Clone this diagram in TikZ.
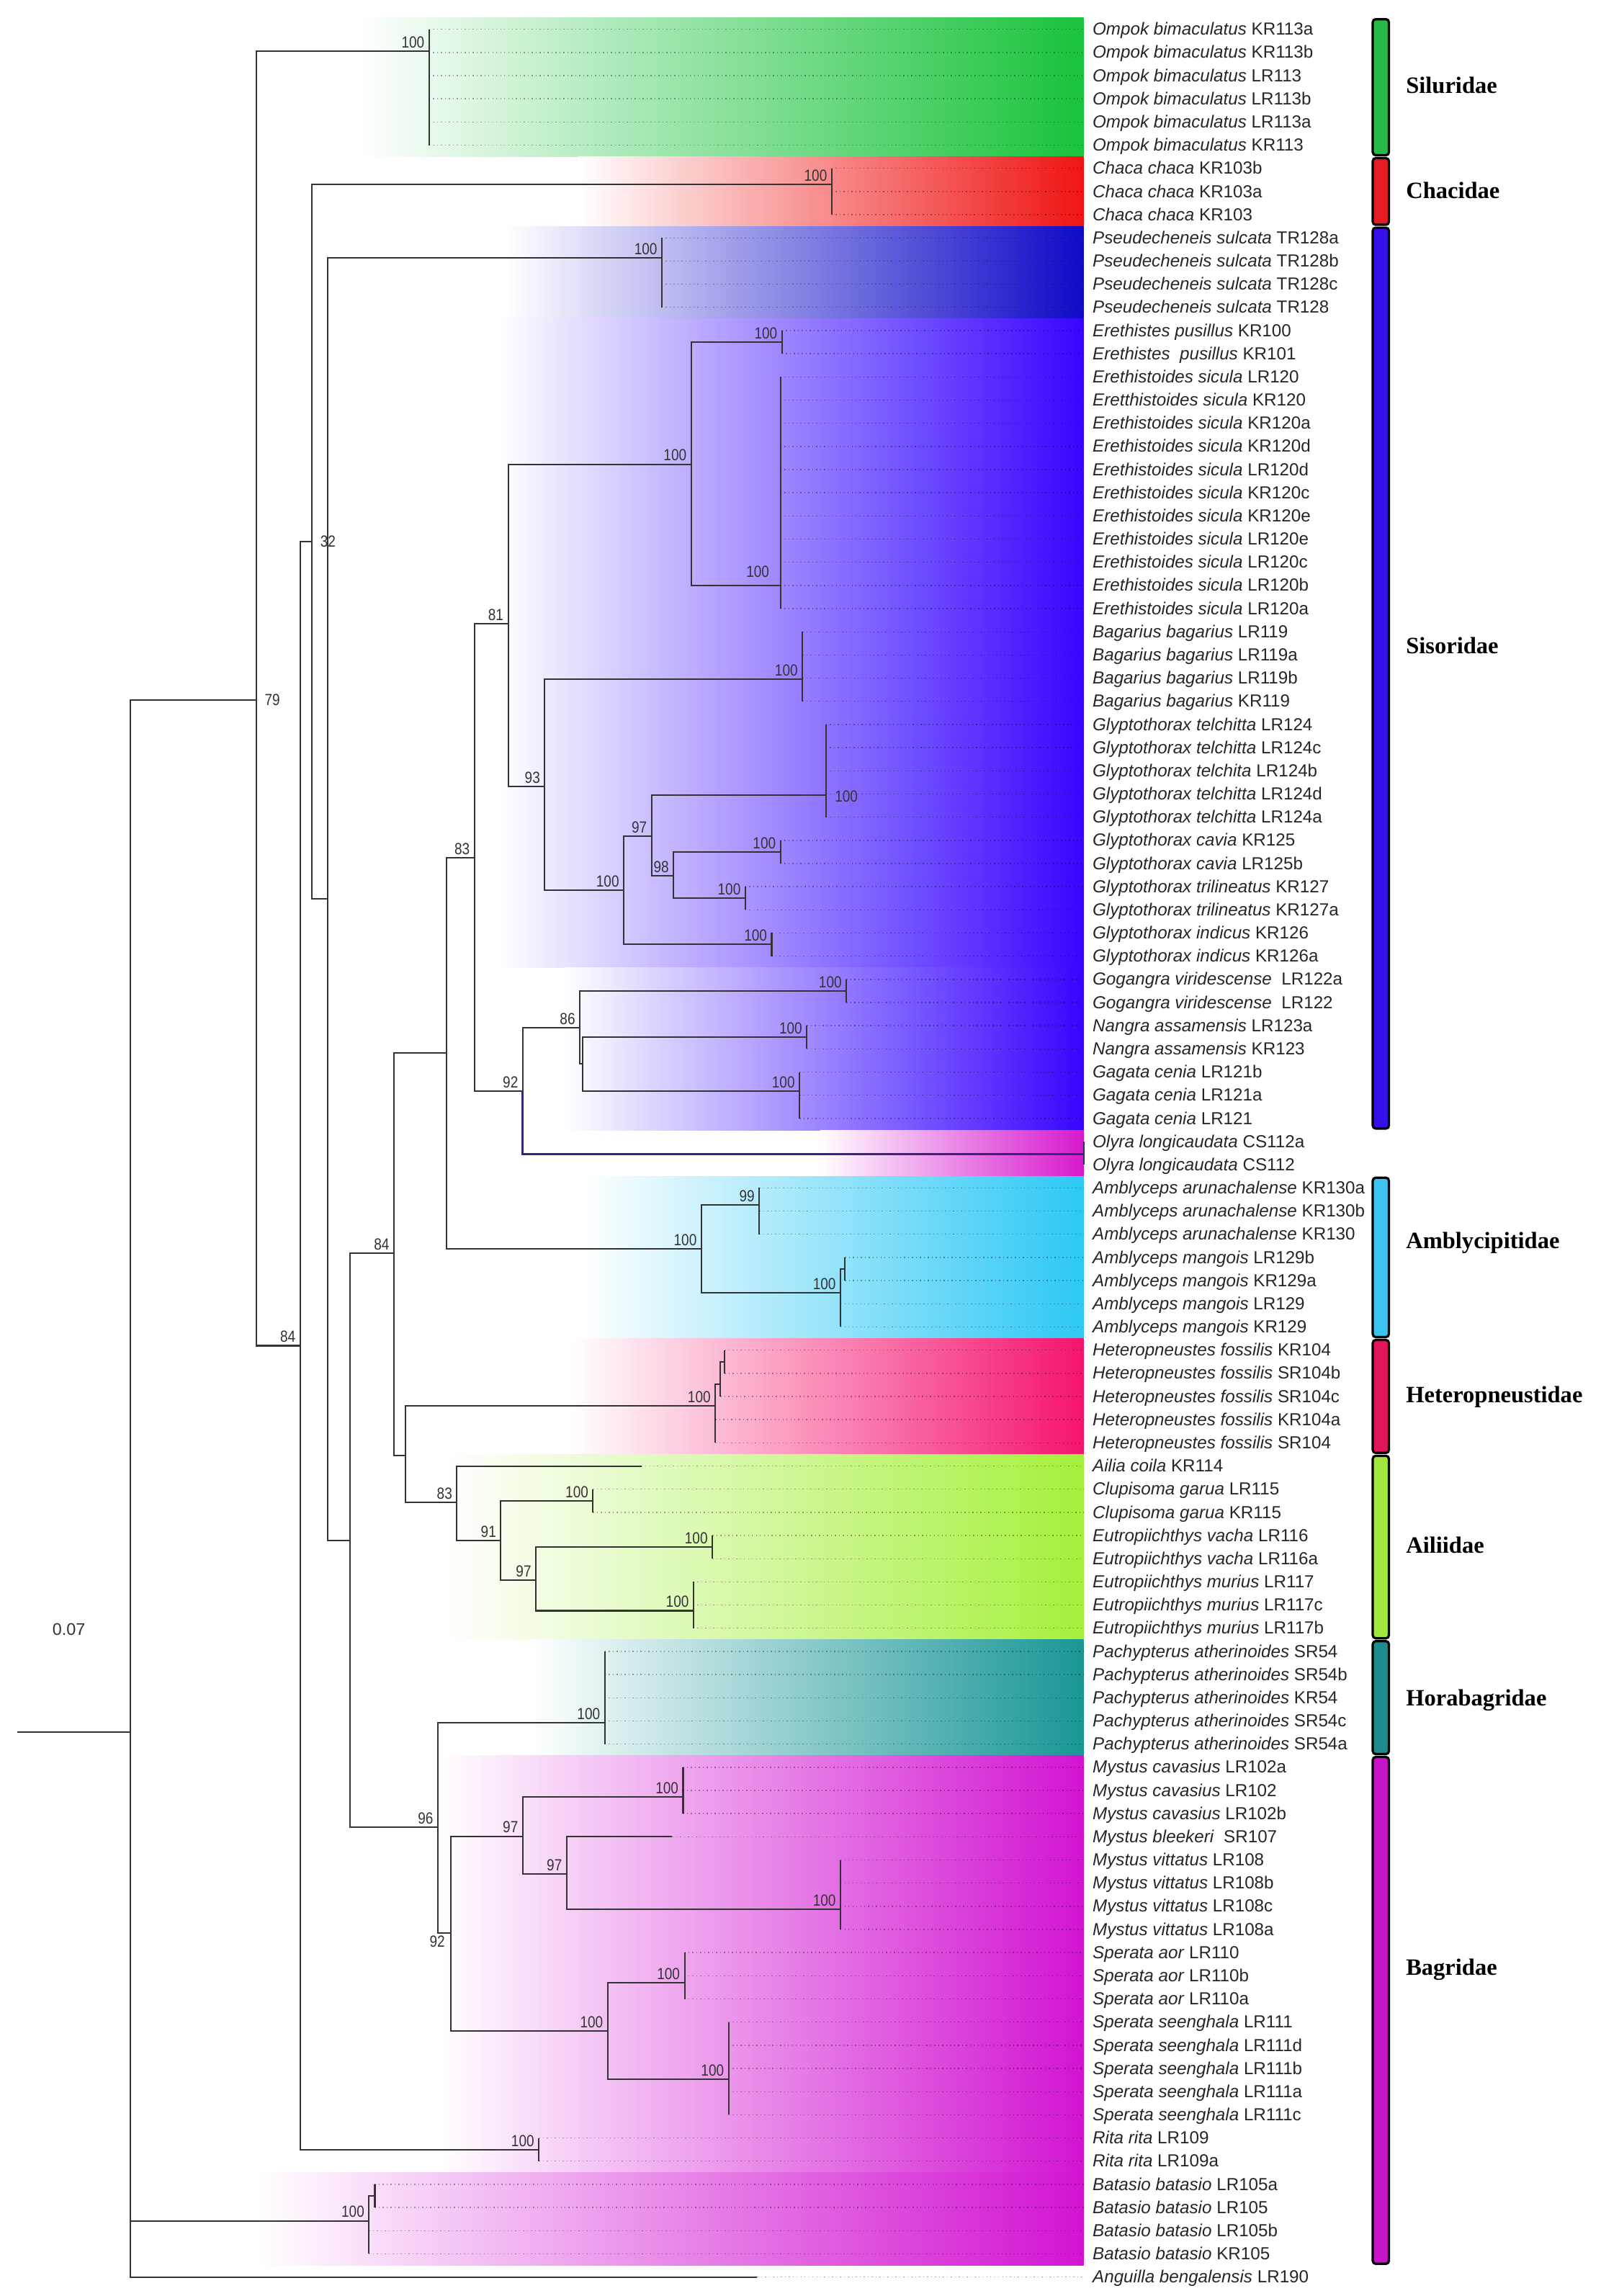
\documentclass[tikz,border=0pt]{standalone}
\usepackage{fontspec}
\setmainfont{Liberation Sans}
\newfontfamily\bsfont[FakeStretch=0.85]{Liberation Sans}
\newfontfamily\famfont{Liberation Serif}
\usetikzlibrary{calc}

\definecolor{silG}{RGB}{25,195,60}
\definecolor{chaR}{RGB}{240,20,20}
\definecolor{pseB}{RGB}{15,10,200}
\definecolor{sisV}{RGB}{55,5,255}
\definecolor{olyM}{RGB}{215,25,205}
\definecolor{ambS}{RGB}{45,200,245}
\definecolor{hetP}{RGB}{245,20,110}
\definecolor{ailL}{RGB}{165,240,60}
\definecolor{horT}{RGB}{25,150,150}
\definecolor{bagM}{RGB}{210,20,210}
\definecolor{barSil}{RGB}{40,185,70}
\definecolor{barCha}{RGB}{230,30,35}
\definecolor{barSis}{RGB}{55,15,235}
\definecolor{barAmb}{RGB}{60,195,240}
\definecolor{barHet}{RGB}{225,20,90}
\definecolor{barAil}{RGB}{160,230,60}
\definecolor{barHor}{RGB}{30,140,140}
\definecolor{barBag}{RGB}{200,20,200}
\definecolor{olyLine}{RGB}{55,35,130}

\newcommand\myleaf[3]{\node[leaf] (L#1) at (746,{20+(#1-1)*15.825}) {\textit{#2} #3};}
\newcommand\dl[2]{\draw[dotl] (#1 |- L#2) -- (L#2.west);}
\newcommand\tclade[3]{%
  \draw[br] (#1 |- L#2) -- (#1 |- L#3);
  \foreach \k in {#2,...,#3} {\draw[dotl] (#1 |- L\k) -- (L\k.west);}%
}

\begin{document}
\begin{tikzpicture}[x=1pt,y=-1pt,
  br/.style={draw=black!80,line width=1pt},
  dotl/.style={draw=black,draw opacity=0.35,dotted,line width=0.7pt,shorten >=6pt},
  leaf/.style={anchor=west,inner sep=0pt,font=\fontsize{11.9}{12}\selectfont,text=black!85,text height=8.5pt,text depth=0.5pt},
  bsl/.style={anchor=south east,inner sep=0pt,font=\bsfont\fontsize{11}{11}\selectfont,text=black!80},
  fam/.style={anchor=west,inner sep=0pt,font=\famfont\bfseries\fontsize{16}{16}\selectfont},
  famb/.style={draw=black,line width=1.6pt,rounded corners=2pt}
]
\useasboundingbox (0,0) rectangle (1093,1568);

% ---------- coloured bands ----------
\shade[left color=white,right color=silG] (245,12.1) rectangle (740,107.0);
\shade[left color=white,right color=chaR] (395,107.0) rectangle (740,154.5);
\shade[left color=white,right color=pseB] (345,154.5) rectangle (740,217.8);
\shade[left color=white,right color=sisV] (341,217.8) rectangle (740,660.9);
\shade[left color=white,right color=sisV] (385,660.9) rectangle (740,771.7);
\shade[left color=white,right color=olyM] (560,771.7) rectangle (740,803.3);
\shade[left color=white,right color=ambS] (397,803.3) rectangle (740,914.1);
\shade[left color=white,right color=hetP] (390,914.1) rectangle (740,993.2);
\shade[left color=white,right color=ailL] (305,993.2) rectangle (740,1119.8);
\shade[left color=white,right color=horT] (362,1119.8) rectangle (740,1198.9);
\shade[left color=white,right color=bagM] (300,1198.9) rectangle (740,1483.7);
\shade[left color=white,right color=bagM] (175,1483.7) rectangle (740,1547.0);

% ---------- leaves ----------
\myleaf{1}{Ompok bimaculatus}{KR113a}
\myleaf{2}{Ompok bimaculatus}{KR113b}
\myleaf{3}{Ompok bimaculatus}{LR113}
\myleaf{4}{Ompok bimaculatus}{LR113b}
\myleaf{5}{Ompok bimaculatus}{LR113a}
\myleaf{6}{Ompok bimaculatus}{KR113}
\myleaf{7}{Chaca chaca}{KR103b}
\myleaf{8}{Chaca chaca}{KR103a}
\myleaf{9}{Chaca chaca}{KR103}
\myleaf{10}{Pseudecheneis sulcata}{TR128a}
\myleaf{11}{Pseudecheneis sulcata}{TR128b}
\myleaf{12}{Pseudecheneis sulcata}{TR128c}
\myleaf{13}{Pseudecheneis sulcata}{TR128}
\myleaf{14}{Erethistes pusillus}{KR100}
\myleaf{15}{Erethistes\ \ pusillus}{KR101}
\myleaf{16}{Erethistoides sicula}{LR120}
\myleaf{17}{Eretthistoides sicula}{KR120}
\myleaf{18}{Erethistoides sicula}{KR120a}
\myleaf{19}{Erethistoides sicula}{KR120d}
\myleaf{20}{Erethistoides sicula}{LR120d}
\myleaf{21}{Erethistoides sicula}{KR120c}
\myleaf{22}{Erethistoides sicula}{KR120e}
\myleaf{23}{Erethistoides sicula}{LR120e}
\myleaf{24}{Erethistoides sicula}{LR120c}
\myleaf{25}{Erethistoides sicula}{LR120b}
\myleaf{26}{Erethistoides sicula}{LR120a}
\myleaf{27}{Bagarius bagarius}{LR119}
\myleaf{28}{Bagarius bagarius}{LR119a}
\myleaf{29}{Bagarius bagarius}{LR119b}
\myleaf{30}{Bagarius bagarius}{KR119}
\myleaf{31}{Glyptothorax telchitta}{LR124}
\myleaf{32}{Glyptothorax telchitta}{LR124c}
\myleaf{33}{Glyptothorax telchita}{LR124b}
\myleaf{34}{Glyptothorax telchitta}{LR124d}
\myleaf{35}{Glyptothorax telchitta}{LR124a}
\myleaf{36}{Glyptothorax cavia}{KR125}
\myleaf{37}{Glyptothorax cavia}{LR125b}
\myleaf{38}{Glyptothorax trilineatus}{KR127}
\myleaf{39}{Glyptothorax trilineatus}{KR127a}
\myleaf{40}{Glyptothorax indicus}{KR126}
\myleaf{41}{Glyptothorax indicus}{KR126a}
\myleaf{42}{Gogangra viridescense}{\ LR122a}
\myleaf{43}{Gogangra viridescense}{\ LR122}
\myleaf{44}{Nangra assamensis}{LR123a}
\myleaf{45}{Nangra assamensis}{KR123}
\myleaf{46}{Gagata cenia}{LR121b}
\myleaf{47}{Gagata cenia}{LR121a}
\myleaf{48}{Gagata cenia}{LR121}
\myleaf{49}{Olyra longicaudata}{CS112a}
\myleaf{50}{Olyra longicaudata}{CS112}
\myleaf{51}{Amblyceps arunachalense}{KR130a}
\myleaf{52}{Amblyceps arunachalense}{KR130b}
\myleaf{53}{Amblyceps arunachalense}{KR130}
\myleaf{54}{Amblyceps mangois}{LR129b}
\myleaf{55}{Amblyceps mangois}{KR129a}
\myleaf{56}{Amblyceps mangois}{LR129}
\myleaf{57}{Amblyceps mangois}{KR129}
\myleaf{58}{Heteropneustes fossilis}{KR104}
\myleaf{59}{Heteropneustes fossilis}{SR104b}
\myleaf{60}{Heteropneustes fossilis}{SR104c}
\myleaf{61}{Heteropneustes fossilis}{KR104a}
\myleaf{62}{Heteropneustes fossilis}{SR104}
\myleaf{63}{Ailia coila}{KR114}
\myleaf{64}{Clupisoma garua}{LR115}
\myleaf{65}{Clupisoma garua}{KR115}
\myleaf{66}{Eutropiichthys vacha}{LR116}
\myleaf{67}{Eutropiichthys vacha}{LR116a}
\myleaf{68}{Eutropiichthys murius}{LR117}
\myleaf{69}{Eutropiichthys murius}{LR117c}
\myleaf{70}{Eutropiichthys murius}{LR117b}
\myleaf{71}{Pachypterus atherinoides}{SR54}
\myleaf{72}{Pachypterus atherinoides}{SR54b}
\myleaf{73}{Pachypterus atherinoides}{KR54}
\myleaf{74}{Pachypterus atherinoides}{SR54c}
\myleaf{75}{Pachypterus atherinoides}{SR54a}
\myleaf{76}{Mystus cavasius}{LR102a}
\myleaf{77}{Mystus cavasius}{LR102}
\myleaf{78}{Mystus cavasius}{LR102b}
\myleaf{79}{Mystus bleekeri}{\ SR107}
\myleaf{80}{Mystus vittatus}{LR108}
\myleaf{81}{Mystus vittatus}{LR108b}
\myleaf{82}{Mystus vittatus}{LR108c}
\myleaf{83}{Mystus vittatus}{LR108a}
\myleaf{84}{Sperata aor}{LR110}
\myleaf{85}{Sperata aor}{LR110b}
\myleaf{86}{Sperata aor}{LR110a}
\myleaf{87}{Sperata seenghala}{LR111}
\myleaf{88}{Sperata seenghala}{LR111d}
\myleaf{89}{Sperata seenghala}{LR111b}
\myleaf{90}{Sperata seenghala}{LR111a}
\myleaf{91}{Sperata seenghala}{LR111c}
\myleaf{92}{Rita rita}{LR109}
\myleaf{93}{Rita rita}{LR109a}
\myleaf{94}{Batasio batasio}{LR105a}
\myleaf{95}{Batasio batasio}{LR105}
\myleaf{96}{Batasio batasio}{LR105b}
\myleaf{97}{Batasio batasio}{KR105}
\myleaf{98}{Anguilla bengalensis}{LR190}

% ---------- internal nodes ----------
\coordinate (root) at (89,1183);
\coordinate (scl) at (12,1183);
\coordinate (n79) at (175,478);
\coordinate (ompok) at (293,35);
\coordinate (n84a) at (205,919);
\coordinate (n32) at (213,370);
\coordinate (chaca) at (568,126);
\coordinate (n224) at (224,614);
\coordinate (pseud) at (452,176);
\coordinate (nY) at (239,1052);
\coordinate (n269) at (269,856);
\coordinate (n305) at (305,719);
\coordinate (n324) at (324,586);
\coordinate (n347) at (347,426);
\coordinate (n472) at (472,317);
\coordinate (erethistes) at (534,233.6);
\coordinate (erethistoides) at (533,400);
\coordinate (n372) at (372,537);
\coordinate (bagarius) at (548,464);
\coordinate (n426) at (426,608);
\coordinate (n445) at (445,571);
\coordinate (telchitta) at (564,543);
\coordinate (n460) at (460,598);
\coordinate (cavia) at (533,581.8);
\coordinate (trilin) at (509,613.5);
\coordinate (indicus) at (527,645);
\coordinate (n357) at (357,745);
\coordinate (n396) at (396,702);
\coordinate (gogangra) at (578,676.7);
\coordinate (n397) at (398,726.5);
\coordinate (nangra) at (551,708.4);
\coordinate (gagata) at (546,745);
\coordinate (olyra) at (740,788);
\coordinate (ambly) at (479,853);
\coordinate (n99) at (518.5,823);
\coordinate (mangois) at (574,883);
\coordinate (ms) at (577,866.7);
\coordinate (nZ) at (277,994);
\coordinate (hetero) at (488.5,960);
\coordinate (hs1) at (492,945.5);
\coordinate (hs2) at (495,930);
\coordinate (n312) at (312,1026);
\coordinate (ailiaEnd) at (438,1001.15);
\coordinate (n342) at (342,1052);
\coordinate (clupisoma) at (405,1025);
\coordinate (n366) at (366,1079);
\coordinate (vacha) at (486.5,1056.5);
\coordinate (murius) at (473.6,1100);
\coordinate (n96) at (299,1248);
\coordinate (pachy) at (413,1176.5);
\coordinate (n308) at (308,1320);
\coordinate (n357b) at (357,1254);
\coordinate (cavasius) at (466.5,1227);
\coordinate (n387) at (387,1280);
\coordinate (bleekeriEnd) at (459,1254.35);
\coordinate (vittatus) at (574,1304);
\coordinate (n415) at (415,1387);
\coordinate (aor) at (467.5,1354);
\coordinate (seenghala) at (497.6,1420);
\coordinate (rita) at (368,1468);
\coordinate (batasio) at (252,1516.6);
\coordinate (bs) at (256,1499.7);
\coordinate (anguillaEnd) at (517,1555);

% ---------- branches ----------
\draw[br] (scl) -- (root);
\foreach \p/\c in {root/n79, root/batasio, root/anguillaEnd, n79/ompok, n79/n84a,
  n84a/n32, n84a/rita, n32/chaca, n32/n224, n224/pseud, n224/nY, nY/n269, nY/n96,
  n269/n305, n269/nZ, n305/n324, n305/ambly, n324/n347, n324/n357, n347/n472,
  n347/n372, n472/erethistes, n472/erethistoides, n372/bagarius, n372/n426,
  n426/n445, n426/indicus, n445/telchitta, n445/n460, n460/cavia, n460/trilin,
  n357/n396, n396/gogangra, n396/n397, n397/nangra, n397/gagata, ambly/n99,
  ambly/mangois, mangois/ms, nZ/hetero, nZ/n312, hetero/hs1, hs1/hs2,
  n312/ailiaEnd, n312/n342, n342/clupisoma, n342/n366, n366/vacha, n366/murius,
  n96/pachy, n96/n308, n308/n357b, n308/n415, n357b/cavasius, n357b/n387,
  n387/bleekeriEnd, n387/vittatus, n415/aor, n415/seenghala, batasio/bs}
  {\draw[br] (\p) |- (\c);}
\draw[br,draw=olyLine,line width=1.4pt] (n357) |- (olyra);

% ---------- terminal clades ----------
\tclade{ompok}{1}{6}
\tclade{chaca}{7}{9}
\tclade{pseud}{10}{13}
\tclade{erethistes}{14}{15}
\tclade{erethistoides}{16}{26}
\tclade{bagarius}{27}{30}
\tclade{telchitta}{31}{35}
\tclade{cavia}{36}{37}
\tclade{trilin}{38}{39}
\tclade{indicus}{40}{41}
\tclade{gogangra}{42}{43}
\tclade{nangra}{44}{45}
\tclade{gagata}{46}{48}
\draw[br,draw=olyLine] (olyra |- L49) -- (olyra |- L50);
\tclade{n99}{51}{53}
\tclade{ms}{54}{55}
\tclade{mangois}{56}{57}
\draw[br] (mangois |- ms) -- (mangois |- L57);
\tclade{hs2}{58}{59}
\draw[br] (hs1 |- hs2) -- (hs1 |- L60);
\dl{hs1}{60}
\draw[br] (hetero |- hs1) -- (hetero |- L62);
\dl{hetero}{61}
\dl{hetero}{62}
\dl{ailiaEnd}{63}
\tclade{clupisoma}{64}{65}
\tclade{vacha}{66}{67}
\tclade{murius}{68}{70}
\tclade{pachy}{71}{75}
\tclade{cavasius}{76}{78}
\dl{bleekeriEnd}{79}
\tclade{vittatus}{80}{83}
\tclade{aor}{84}{86}
\tclade{seenghala}{87}{91}
\tclade{rita}{92}{93}
\tclade{bs}{94}{95}
\draw[br] (batasio |- bs) -- (batasio |- L97);
\dl{batasio}{96}
\dl{batasio}{97}
\dl{anguillaEnd}{98}

% ---------- support values ----------
\foreach \n/\t in {ompok/100, chaca/100, pseud/100, erethistes/100, n472/100,
  n347/81, bagarius/100, n372/93, n445/97, cavia/100, n460/98, trilin/100,
  n324/83, n426/100, indicus/100, gogangra/100, n396/86, nangra/100, gagata/100,
  n357/92, n269/84, n99/99, ambly/100, mangois/100, hetero/100, n312/83,
  clupisoma/100, n342/91, vacha/100, n366/97, murius/100, n84a/84, pachy/100,
  n96/96, cavasius/100, n357b/97, n387/97, vittatus/100, aor/100, n415/100,
  seenghala/100, rita/100, batasio/100}
  {\node[bsl] at ([shift={(-3pt,2pt)}]\n) {\t};}
\node[bsl] at ([shift={(-7.5pt,5.5pt)}]erethistoides) {100};
\node[bsl,anchor=center] at ([shift={(11pt,0pt)}]n32) {32};
\node[bsl,anchor=center] at ([shift={(11pt,0pt)}]n79) {79};
\node[bsl,anchor=center] at ([shift={(14pt,-1pt)}]telchitta) {100};
\node[bsl,anchor=north east] at ([shift={(-4pt,-2pt)}]n308) {92};

\node[inner sep=0pt,font=\fontsize{11.5}{12}\selectfont,text=black!80] (scaletxt) at (47,1113) {0.07};

% ---------- family bars ----------
\foreach \a/\b/\c in {12.1/107.0/barSil, 107.0/154.5/barCha, 154.5/771.7/barSis,
  803.3/914.1/barAmb, 914.1/993.2/barHet, 993.2/1119.8/barAil,
  1119.8/1198.9/barHor, 1198.9/1547.0/barBag}
  {\draw[famb,fill=\c] (937.5,\a+1) rectangle (948.5,\b-1);}

\node[fam] (fSil) at (960,58) {Siluridae};
\node[fam] (fCha) at (960,130) {Chacidae};
\node[fam] (fSis) at (960,441) {Sisoridae};
\node[fam] (fAmb) at (960,849) {Amblycipitidae};
\node[fam] (fHet) at (960,954) {Heteropneustidae};
\node[fam] (fAil) at (960,1055) {Ailiidae};
\node[fam] (fHor) at (960,1161) {Horabagridae};
\node[fam] (fBag) at (960,1345) {Bagridae};
\end{tikzpicture}
\end{document}
